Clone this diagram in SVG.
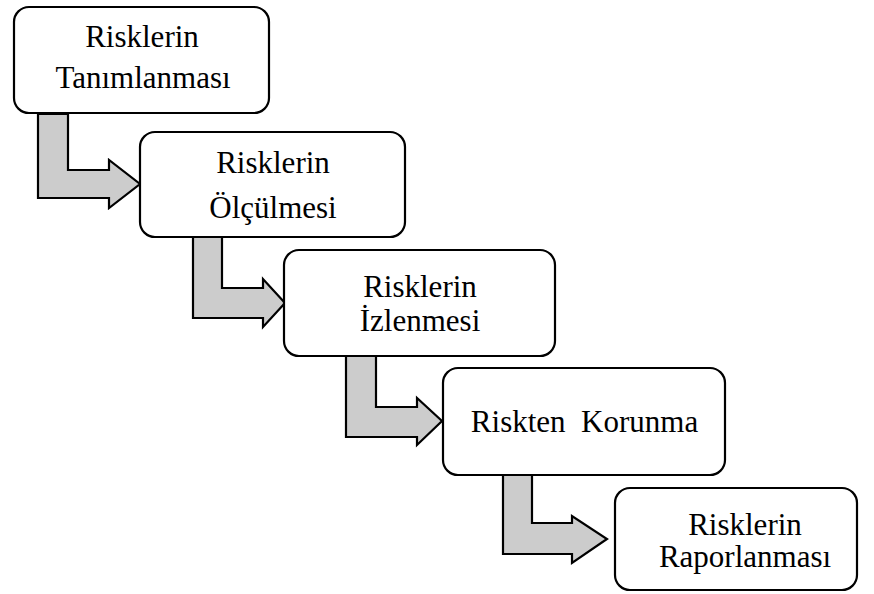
<svg xmlns="http://www.w3.org/2000/svg" width="874" height="594" viewBox="0 0 874 594">
<style>
.box{fill:#fff;stroke:#000;stroke-width:2.2}
.arr{fill:#cccccc;stroke:#000;stroke-width:2.2;stroke-linejoin:miter}
.t{font-family:'Liberation Serif','Times New Roman',Times,serif;font-size:31px;fill:#000;text-anchor:middle}
</style>
<rect width="874" height="594" fill="#fff"/>
<g id="connectors">
<path class="arr" d="M38,114 H68 V170 H109 V160 L140,184 L109,208 V198 H38 Z"/>
<path class="arr" d="M193,237 H222 V288 H263 V279 L285,303 L263,327 V318 H193 Z"/>
<path class="arr" d="M346,356 H376 V407 H417 V398 L442,421 L417,445 V437 H346 Z"/>
<path class="arr" d="M503,475 H532 V523 H572 V516 L607,539 L572,563 V554 H503 Z"/>
</g>
<g id="n1">
<rect class="box" x="14" y="7" width="255" height="106" rx="15"/>
<text class="t" x="142" y="47">Risklerin</text>
<text class="t" x="143" y="88">Tanımlanması</text>
</g>
<g id="n2">
<rect class="box" x="140" y="132" width="265" height="105" rx="15"/>
<text class="t" x="273" y="173">Risklerin</text>
<text class="t" x="273" y="218">Ölçülmesi</text>
</g>
<g id="n3">
<rect class="box" x="284" y="250" width="271" height="106" rx="15"/>
<text class="t" x="420" y="297">Risklerin</text>
<text class="t" x="420" y="331">İzlenmesi</text>
</g>
<g id="n4">
<rect class="box" x="443" y="368" width="282" height="107" rx="15"/>
<text class="t" x="584.5" y="432" xml:space="preserve">Riskten  Korunma</text>
</g>
<g id="n5">
<rect class="box" x="615" y="488" width="242" height="102" rx="15"/>
<text class="t" x="745" y="535">Risklerin</text>
<text class="t" x="745" y="567">Raporlanması</text>
</g>
</svg>
